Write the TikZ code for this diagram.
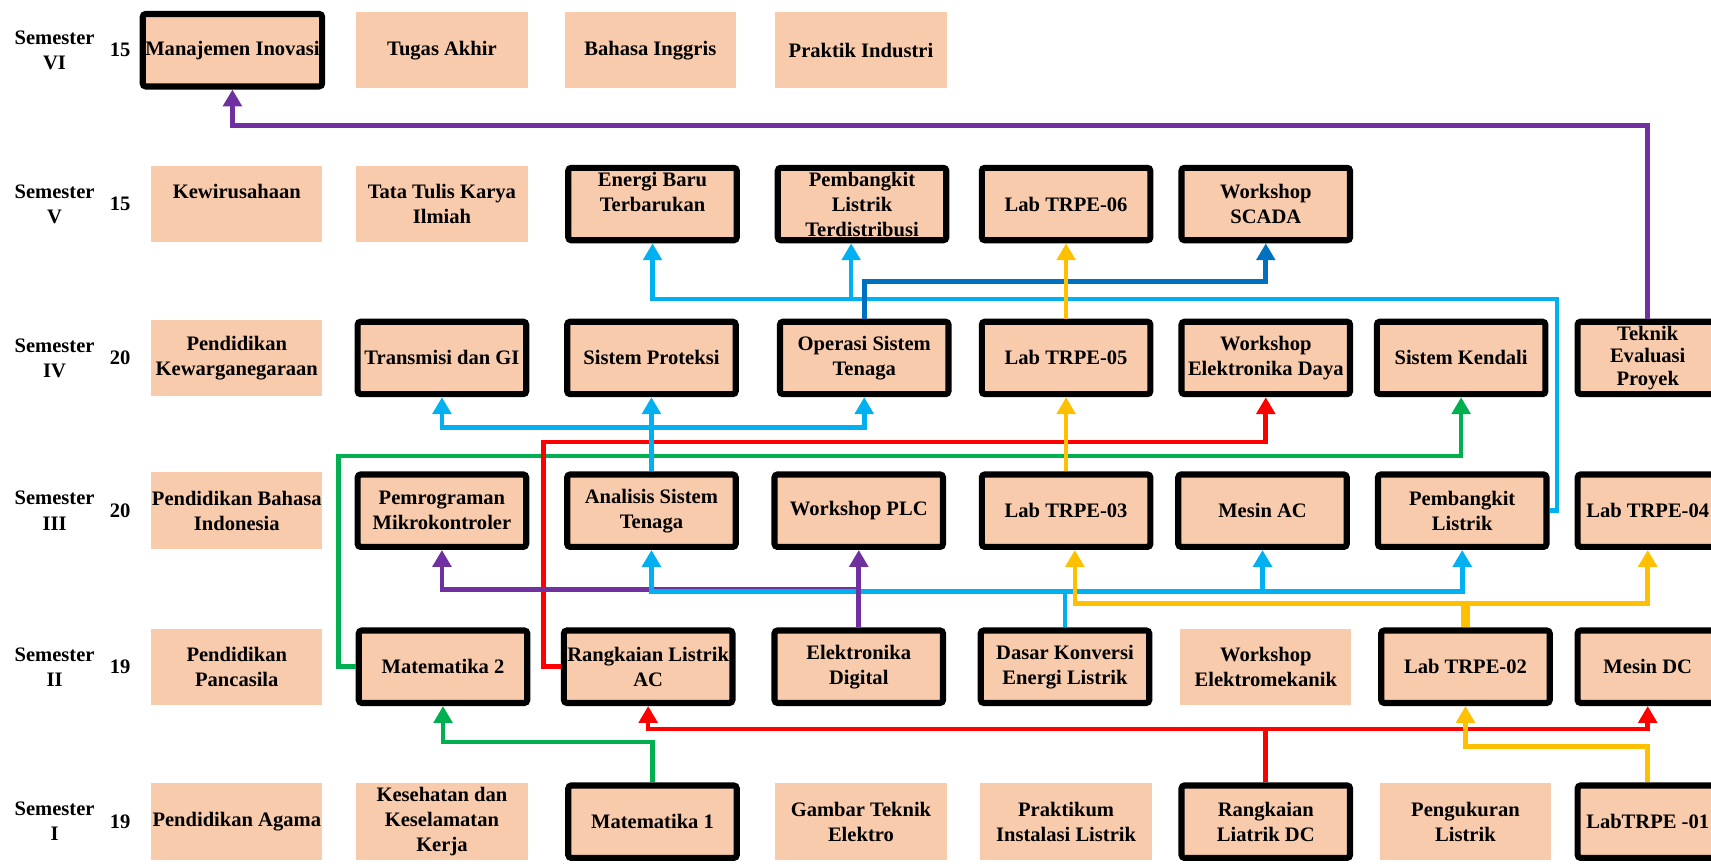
\documentclass[tikz,border=0pt]{standalone}
\usepackage{fontspec}
\setmainfont{Liberation Serif}
\usetikzlibrary{arrows.meta}

\definecolor{peach}{HTML}{F8CBAD}
\definecolor{cyanline}{HTML}{00B0F0}
\definecolor{blueline}{HTML}{0070C0}
\definecolor{purpleline}{HTML}{7030A0}
\definecolor{redline}{HTML}{FF0000}
\definecolor{greenline}{HTML}{00B050}
\definecolor{goldline}{HTML}{FFC000}

\tikzset{
  course/.style={fill=peach, minimum width=3.925cm, minimum height=1.75cm, inner sep=0pt,
    align=center, font=\bfseries\fontsize{13.4}{16.3}\selectfont},
  core/.style={course, draw=black, line width=4pt, rounded corners=2pt,
    minimum width=3.86cm, minimum height=1.66cm},
  rim/.style={core, minimum width=3.21cm},
  semester/.style={align=center, inner sep=0pt, font=\bfseries\fontsize{13.4}{16.3}\selectfont},
  link/.style={line width=3pt, arrows={-Triangle[width=12pt, length=11pt]}},
}

\begin{document}
\begin{tikzpicture}[x=0.025cm, y=-0.025cm]
	\useasboundingbox (0,0) rectangle (1568,791);

	\node [semester] (semVI) at (50,46) {Semester\\VI};
	\node [semester] (sksVI) at (110,46) {15};
	\node [semester] (semV) at (50,187) {Semester\\V};
	\node [semester] (sksV) at (110,187) {15};
	\node [semester] (semIV) at (50,328) {Semester\\IV};
	\node [semester] (sksIV) at (110,328) {20};
	\node [semester] (semIII) at (50,468) {Semester\\III};
	\node [semester] (sksIII) at (110,468) {20};
	\node [semester] (semII) at (50,611) {Semester\\II};
	\node [semester] (sksII) at (110,611) {19};
	\node [semester] (semI) at (50,753) {Semester\\I};
	\node [semester] (sksI) at (110,753) {19};

	\node [core, minimum width=4.11cm] (mi) at (213,46) {Manajemen Inovasi};
	\node [course] (ta) at (405,46) {Tugas Akhir};
	\node [course] (bi) at (596,46) {Bahasa Inggris};
	\node [course] (pi) at (789,46) {Praktik Industri};

	\node [course] (kwu) at (217,187) {Kewirusahaan\\~};
	\node [course] (ttki) at (405,187) {Tata Tulis Karya\\Ilmiah};
	\node [core] (ebt) at (598,187) {Energi Baru\\Terbarukan\\~};
	\node [core] (pltd) at (790,187) {Pembangkit\\Listrik\\Terdistribusi};
	\node [core] (trpe6) at (977,187) {Lab TRPE-06};
	\node [core] (scada) at (1160,187) {Workshop\\SCADA};

	\node [course] (pkn) at (217,328) {Pendidikan\\Kewarganegaraan};
	\node [core] (tgi) at (405,328) {Transmisi dan GI};
	\node [core] (sp) at (597,328) {Sistem Proteksi};
	\node [core] (ost) at (792,328) {Operasi Sistem\\Tenaga};
	\node [core] (trpe5) at (977,328) {Lab TRPE-05};
	\node [core] (wed) at (1160,328) {Workshop\\Elektronika Daya};
	\node [core] (sk) at (1339,328) {Sistem Kendali};
	\node [rim, font=\bfseries\fontsize{13.4}{14.6}\selectfont] (tep) at (1510,328) {Teknik\\Evaluasi\\Proyek};

	\node [course] (pbi) at (217,468) {Pendidikan Bahasa\\Indonesia};
	\node [core] (pmk) at (405,468) {Pemrograman\\Mikrokontroler};
	\node [core] (ast) at (597,468) {Analisis Sistem\\Tenaga};
	\node [core] (wplc) at (787,468) {Workshop PLC};
	\node [core] (trpe3) at (977,468) {Lab TRPE-03};
	\node [core] (mac) at (1157,468) {Mesin AC};
	\node [core] (pl) at (1340,468) {Pembangkit\\Listrik};
	\node [rim] (trpe4) at (1510,468) {Lab TRPE-04};

	\node [course] (pp) at (217,611) {Pendidikan\\Pancasila};
	\node [core] (mat2) at (406,611) {Matematika 2};
	\node [core] (rlac) at (594,611) {Rangkaian Listrik\\AC};
	\node [core] (ed) at (787,611) {Elektronika\\Digital};
	\node [core] (dkel) at (976,611) {Dasar Konversi\\Energi Listrik};
	\node [course] (wem) at (1160,611) {Workshop\\Elektromekanik};
	\node [core] (trpe2) at (1343,611) {Lab TRPE-02};
	\node [rim] (mdc) at (1510,611) {Mesin DC};

	\node [course] (pa) at (217,753) {Pendidikan Agama};
	\node [course] (k3) at (405,753) {Kesehatan dan\\Keselamatan\\Kerja};
	\node [core] (mat1) at (598,753) {Matematika 1};
	\node [course] (gte) at (789,753) {Gambar Teknik\\Elektro};
	\node [course] (pil) at (977,753) {Praktikum\\Instalasi Listrik};
	\node [core] (rldc) at (1160,753) {Rangkaian\\Liatrik DC};
	\node [course] (pgl) at (1343,753) {Pengukuran\\Listrik};
	\node [rim] (trpe1) at (1510,753) {LabTRPE -01};

	\coordinate (busVI) at (0,115);
	\coordinate (busScada) at (0,258);
	\coordinate (cyanturn) at (1427,274);
	\coordinate (pltdin) at ([xshift=-0.25cm]pltd.south);
	\coordinate (busIV) at (0,392);
	\coordinate (redturn) at (498,405);
	\coordinate (greenturn) at (310,418);
	\coordinate (busPLC) at (0,540);
	\coordinate (busIII) at (0,542);
	\coordinate (busLab) at (0,553);
	\coordinate (trpe3in) at ([xshift=0.2cm]trpe3.south);
	\coordinate (busII) at (0,668);
	\coordinate (busMat) at (0,680);
	\coordinate (busLabI) at (0,684);

	\draw [link, purpleline] (tep.north) -- (tep.north |- busVI) -| (mi.south);
	\draw [link, cyanline] (pl.east) -| (cyanturn) -| (ebt.south);
	\draw [link, cyanline] (pltdin |- cyanturn) -- (pltdin);
	\draw [link, blueline] (ost.north) -- (ost.north |- busScada) -| (scada.south);

	\draw [link, greenline] (mat2.west) -| (greenturn) -| (sk.south);
	\draw [link, redline] (rlac.west) -| (redturn) -| (wed.south);
	\draw [link, cyanline] (ast.north) -- (ast.north |- busIV) -| (tgi.south);
	\draw [link, cyanline] (ast.north |- busIV) -| (ost.south);
	\draw [link, cyanline] (ast.north) -- (sp.south);

	\draw [link, purpleline] (ed.north) -- (ed.north |- busPLC) -| (pmk.south);
	\draw [link, cyanline] (dkel.north) -- (dkel.north |- busIII) -| (ast.south);
	\draw [link, cyanline] (dkel.north |- busIII) -| (mac.south);
	\draw [link, cyanline] (dkel.north |- busIII) -| (pl.south);
	\draw [link, purpleline] (ed.north) -- (wplc.south);

	\draw [link, goldline] (trpe5.north) -- (trpe6.south);
	\draw [link, goldline] (trpe3.north) -- (trpe5.south);
	\draw [goldline, line width=6pt] (trpe2.north) -- (trpe2.north |- busLab);
	\draw [link, goldline] (trpe2.north |- busLab) -| (trpe3in);
	\draw [link, goldline] (trpe2.north |- busLab) -| (trpe4.south);

	\draw [link, greenline] (mat1.north) -- (mat1.north |- busMat) -| (mat2.south);
	\draw [link, redline] (rldc.north) -- (rldc.north |- busII) -| (rlac.south);
	\draw [link, redline] (rldc.north |- busII) -| (mdc.south);
	\draw [link, goldline] (trpe1.north) -- (trpe1.north |- busLabI) -| (trpe2.south);
\end{tikzpicture}
\end{document}
